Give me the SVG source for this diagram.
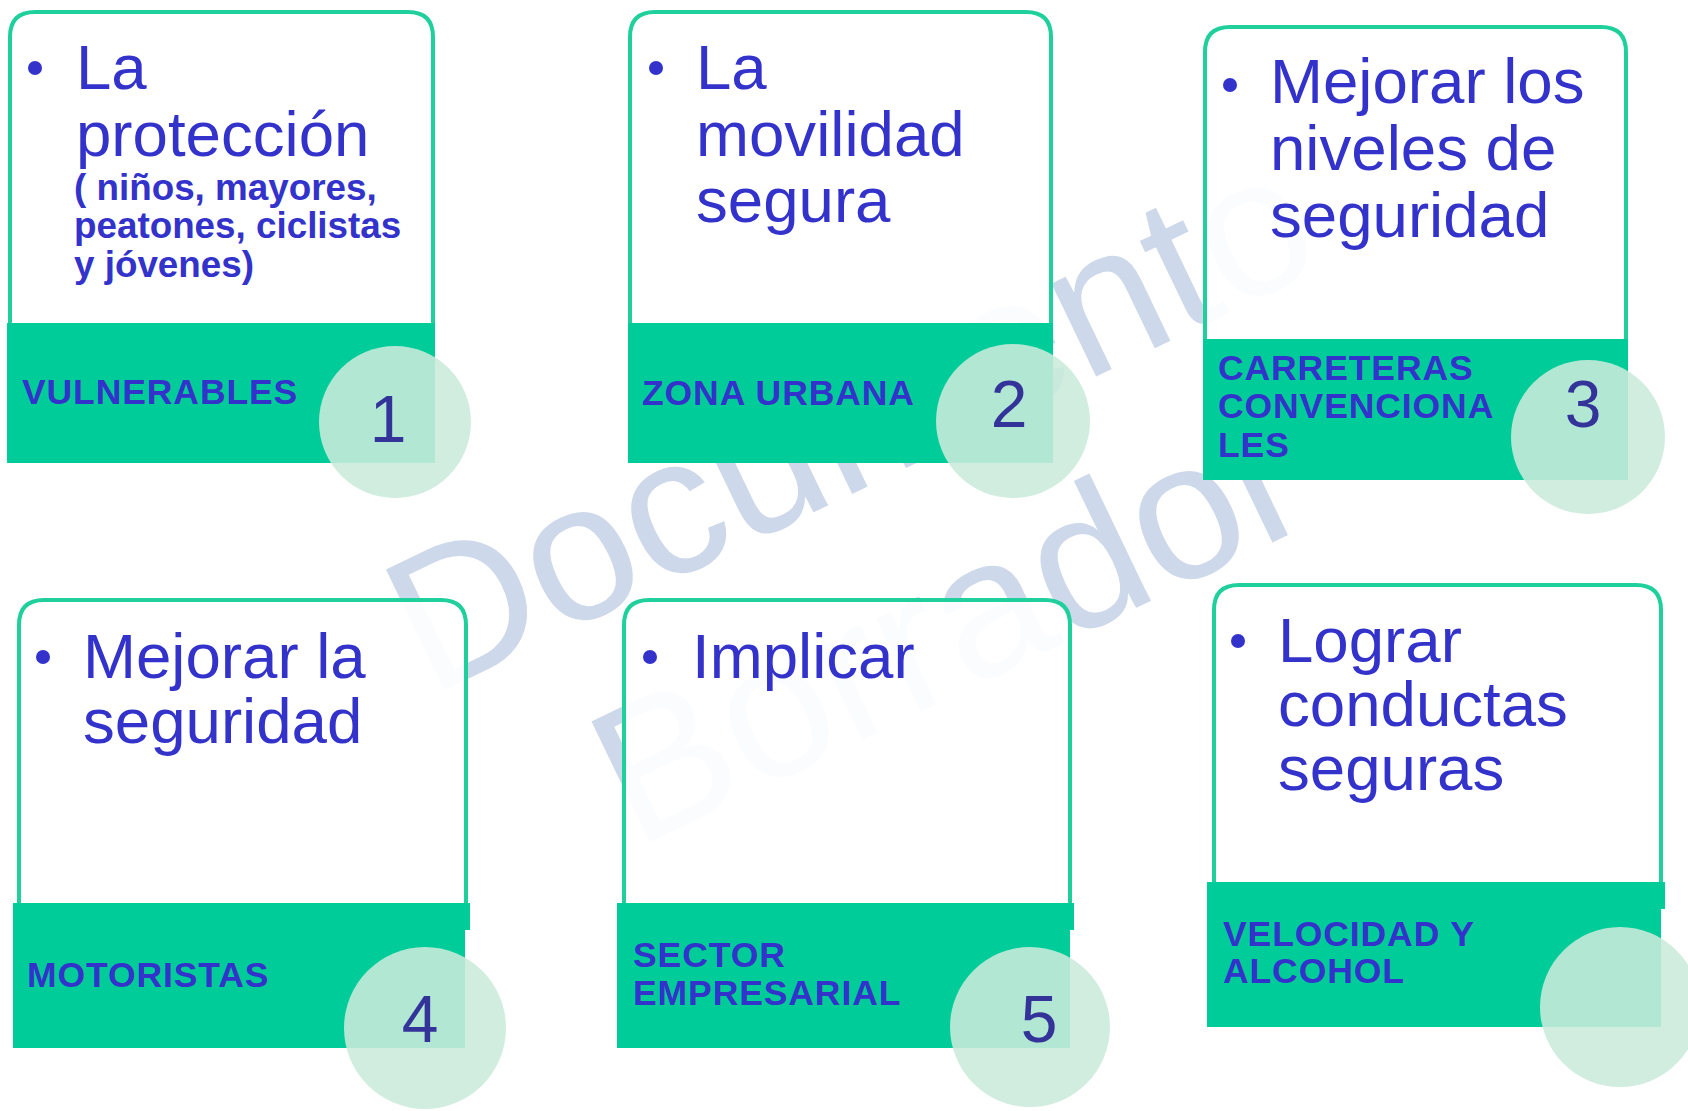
<svg xmlns="http://www.w3.org/2000/svg" width="1688" height="1111" viewBox="0 0 1688 1111">
<defs>
<style>
.wm{font-family:"Liberation Sans",Arial,sans-serif;font-size:195px;fill:#cdd8ea;text-anchor:middle}
.box{fill:#ffffff;fill-opacity:0.92;stroke:#1fd09d;stroke-width:4}
.band{fill:#00cc99}
.main{font-family:"Liberation Sans",Arial,sans-serif;font-size:63.6px;fill:#3333cc}
.sub{font-family:"Liberation Sans",Arial,sans-serif;font-size:36.8px;font-weight:bold;fill:#3333cc}
.lab{font-family:"Liberation Sans",Arial,sans-serif;font-size:35.5px;font-weight:bold;fill:#3333cc;letter-spacing:0.9px}
.bul{fill:#3333cc}
.circ{fill:#c9eadb;fill-opacity:0.88}
.num{font-family:"Liberation Sans",Arial,sans-serif;font-size:66px;fill:#333399;text-anchor:middle}
</style>
</defs>
<rect width="1688" height="1111" fill="#ffffff"/>
<g id="watermark" transform="translate(879,481) rotate(-25.7)">
<text class="wm" x="0" y="0">Documento</text>
<text class="wm" x="0" y="226">Borrador</text>
</g>
<g id="connectors"/>
<g id="node1">
<path class="box" d="M10,323 V37 Q10,12 35,12 H408 Q433,12 433,37 V323"/>
<rect class="band" x="7" y="323" width="428" height="140"/>
<circle class="bul" cx="35" cy="68" r="7"/>
<text class="main" x="76" y="89">La</text>
<text class="main" x="76" y="156">protección</text>
<text class="sub" x="74" y="200">( niños, mayores,</text>
<text class="sub" x="74" y="238">peatones, ciclistas</text>
<text class="sub" x="74" y="277">y jóvenes)</text>
<text class="lab" x="22" y="404">VULNERABLES</text>
<circle class="circ" cx="395" cy="422" r="76"/>
<text class="num" x="388" y="442">1</text>
</g>
<g id="node2">
<path class="box" d="M630,323 V37 Q630,12 655,12 H1026 Q1051,12 1051,37 V323"/>
<rect class="band" x="628" y="323" width="425" height="140"/>
<circle class="bul" cx="656" cy="68" r="7"/>
<text class="main" x="696" y="89">La</text>
<text class="main" x="696" y="156">movilidad</text>
<text class="main" x="696" y="222">segura</text>
<text class="lab" x="642" y="405">ZONA URBANA</text>
<circle class="circ" cx="1013" cy="421" r="77"/>
<text class="num" x="1009" y="427">2</text>
</g>
<g id="node3">
<path class="box" d="M1205,339 V52 Q1205,27 1230,27 H1601 Q1626,27 1626,52 V339"/>
<rect class="band" x="1203" y="339" width="425" height="141"/>
<circle class="bul" cx="1230" cy="85" r="7"/>
<text class="main" x="1270" y="103">Mejorar los</text>
<text class="main" x="1270" y="170">niveles de</text>
<text class="main" x="1270" y="237">seguridad</text>
<text class="lab" x="1218" y="380">CARRETERAS</text>
<text class="lab" x="1218" y="418">CONVENCIONA</text>
<text class="lab" x="1218" y="457">LES</text>
<circle class="circ" cx="1588" cy="437" r="77"/>
<text class="num" x="1583" y="427">3</text>
</g>
<g id="node4">
<path class="box" d="M19,903 V625 Q19,600 44,600 H441 Q466,600 466,625 V903"/>
<rect class="band" x="13" y="903" width="452" height="145"/>
<rect class="band" x="465" y="903" width="5" height="27"/>
<circle class="bul" cx="43" cy="657" r="7"/>
<text class="main" x="83" y="678">Mejorar la</text>
<text class="main" x="83" y="743">seguridad</text>
<text class="lab" x="27" y="987">MOTORISTAS</text>
<circle class="circ" cx="425" cy="1028" r="81"/>
<text class="num" x="420" y="1042">4</text>
</g>
<g id="node5">
<path class="box" d="M624,903 V625 Q624,600 649,600 H1045 Q1070,600 1070,625 V903"/>
<rect class="band" x="617" y="903" width="453" height="145"/>
<rect class="band" x="1070" y="903" width="4" height="27"/>
<circle class="bul" cx="650" cy="657" r="7"/>
<text class="main" x="692" y="678">Implicar</text>
<text class="lab" x="633" y="967">SECTOR</text>
<text class="lab" x="633" y="1005">EMPRESARIAL</text>
<circle class="circ" cx="1030" cy="1027" r="80"/>
<text class="num" x="1039" y="1042">5</text>
</g>
<g id="node6">
<path class="box" d="M1214,882 V610 Q1214,585 1239,585 H1636 Q1661,585 1661,610 V882"/>
<rect class="band" x="1207" y="882" width="454" height="145"/>
<rect class="band" x="1661" y="882" width="4" height="27"/>
<circle class="bul" cx="1238" cy="641" r="7"/>
<text class="main" x="1278" y="662">Lograr</text>
<text class="main" x="1278" y="726">conductas</text>
<text class="main" x="1278" y="790">seguras</text>
<text class="lab" x="1223" y="946">VELOCIDAD Y</text>
<text class="lab" x="1223" y="983">ALCOHOL</text>
<circle class="circ" cx="1620" cy="1007" r="80"/>
</g>
</svg>
